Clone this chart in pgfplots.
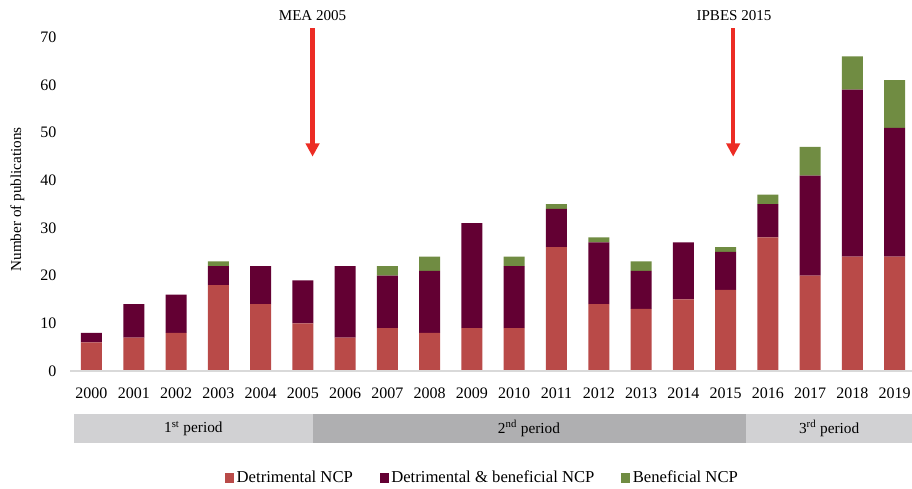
\documentclass[border=0pt]{standalone}
\usepackage{fontspec}
\setmainfont{Liberation Serif}
\usepackage{pgfplots}
\pgfplotsset{compat=1.18}
\usetikzlibrary{arrows.meta}
\definecolor{cred}{RGB}{185,74,72}
\definecolor{cmaroon}{RGB}{99,0,51}
\definecolor{cgreen}{RGB}{112,140,66}
\definecolor{arrowred}{RGB}{236,44,36}
\definecolor{bandlight}{RGB}{209,209,211}
\definecolor{banddark}{RGB}{175,175,177}
\definecolor{axisgray}{RGB}{217,217,217}
\begin{document}
\begin{tikzpicture}
\begin{axis}[
  scale only axis,
  width=631.3pt, height=257.4pt,
  ybar stacked, bar width=15.75pt,
  xmin=-0.5, xmax=19.41, ymin=0, ymax=72,
  xtick={0,...,19},
  xticklabels={2000,2001,2002,2003,2004,2005,2006,2007,2008,2009,2010,2011,2012,2013,2014,2015,2016,2017,2018,2019},
  ytick={0,10,...,70},
  axis line style={draw=none},
  tick style={draw=none},
  clip=false,
  /pgf/number format/assume math mode=true,
  x tick label style={font=\fontsize{12}{14}\selectfont, yshift=-9.5pt},
  y tick label style={font=\fontsize{12}{14}\selectfont, xshift=-7pt},
  ylabel={Number of publications},
  ylabel style={font=\fontsize{11.4}{13}\selectfont, at={(axis description cs:-0.0629,0.5)}, anchor=center},
  legend columns=3,
  legend style={draw=none, fill=none, at={(0.49,-0.312)}, anchor=center,
    font=\fontsize{12.5}{14}\selectfont,
    /tikz/every even column/.append style={column sep=18pt}},
  legend image code/.code={\fill[#1] (0pt,-3.4pt) rectangle (6.8pt,3.4pt);},
]
\draw[axisgray, line width=1pt] (axis cs:-0.5,0) -- (axis cs:19.41,0);
\addplot[fill=cred, draw=none] coordinates {
(0,6) (1,7) (2,8) (3,18) (4,14) (5,10) (6,7) (7,9) (8,8) (9,9)
(10,9) (11,26) (12,14) (13,13) (14,15) (15,17) (16,28) (17,20) (18,24) (19,24)};
\addplot[fill=cmaroon, draw=none] coordinates {
(0,2) (1,7) (2,8) (3,4) (4,8) (5,9) (6,15) (7,11) (8,13) (9,22)
(10,13) (11,8) (12,13) (13,8) (14,12) (15,8) (16,7) (17,21) (18,35) (19,27)};
\addplot[fill=cgreen, draw=none] coordinates {
(0,0) (1,0) (2,0) (3,1) (4,0) (5,0) (6,0) (7,2) (8,3) (9,0)
(10,2) (11,1) (12,1) (13,2) (14,0) (15,1) (16,2) (17,6) (18,7) (19,10)};
\legend{Detrimental NCP, Detrimental \& beneficial NCP, Beneficial NCP}
% annotations
\node[font=\fontsize{11.3}{13}\selectfont] at (axis cs:5.23,74.5) {MEA 2005};
\node[font=\fontsize{11.3}{13}\selectfont] at (axis cs:15.2,74.5) {IPBES 2015};
\draw[-{Triangle[length=10pt,width=10pt]}, line width=3.2pt, arrowred] (axis cs:5.23,71.95) -- (axis cs:5.23,44.96);
\draw[-{Triangle[length=10pt,width=10pt]}, line width=3.2pt, arrowred] (axis cs:15.18,71.95) -- (axis cs:15.18,44.96);
\coordinate (b1) at (axis cs:-0.412,-9.02);
\coordinate (b2) at (axis cs:5.23,-15.2);
\coordinate (b3) at (axis cs:5.23,-9.02);
\coordinate (b4) at (axis cs:15.48,-15.2);
\coordinate (b5) at (axis cs:15.48,-9.02);
\coordinate (b6) at (axis cs:19.41,-15.2);
\coordinate (t1) at (axis cs:2.41,-12.1);
\coordinate (t2) at (axis cs:10.35,-12.1);
\coordinate (t3) at (axis cs:17.45,-12.1);
\coordinate (bbsw) at (axis cs:-2.164,-24.75);
\coordinate (bbne) at (axis cs:19.41,77.83);
\end{axis}
\fill[bandlight] (b1) rectangle (b2);
\fill[banddark] (b3) rectangle (b4);
\fill[bandlight] (b5) rectangle (b6);
\node[font=\fontsize{11.5}{13}\selectfont] at (t1) {1\textsuperscript{st} period};
\node[font=\fontsize{11.5}{13}\selectfont] at (t2) {2\textsuperscript{nd} period};
\node[font=\fontsize{11.5}{13}\selectfont] at (t3) {3\textsuperscript{rd} period};
\pgfresetboundingbox
\path[use as bounding box] (bbsw) rectangle (bbne);
\end{tikzpicture}
\end{document}
